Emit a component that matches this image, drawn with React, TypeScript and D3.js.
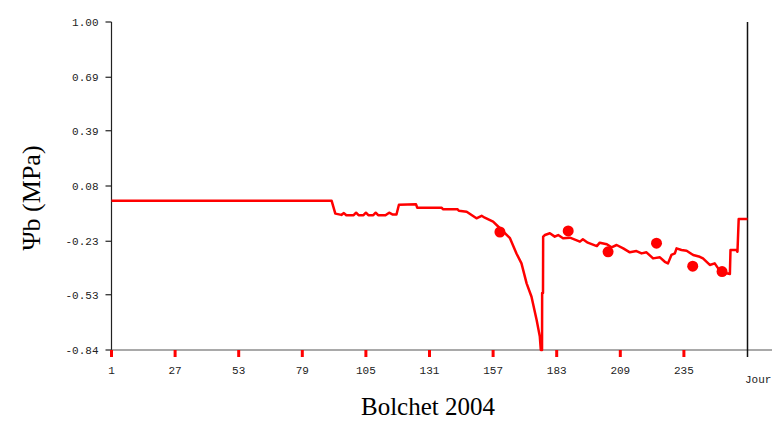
import * as d3 from "d3";

const WIDTH = 781;
const HEIGHT = 423;
const PLOT = { LEFT: 111.5, RIGHT: 747.5, TOP: 22, BOTTOM: 350 };
const AXIS_END = 772;

// daily Psi b curve (day of year, MPa)
const lineDays = [
  1, 91, 92.5, 95, 96, 97, 100, 101, 102, 104, 105, 106, 108, 109, 110, 113, 114.5, 116, 117.5,
  118.5, 125.5, 126, 136, 136.5, 142.5, 143, 146.2, 150.2, 152.3, 153.6, 157, 159.8, 163.9,
  166.6, 168.6, 170.7, 172.7, 174.8, 176.1, 176.5, 177, 177.05, 177.4, 177.46, 178.2, 180.2,
  182.2, 183.6, 185.6, 188.4, 192.5, 193.7, 195.7, 199.4, 200.6, 203.5, 205.4, 207.5, 210.2,
  212.9, 215.6, 217.7, 219.7, 222.4, 225.2, 227.2, 228.5, 229.9, 231.3, 232, 234, 236.1, 238.8,
  241.5, 242.8, 245.6, 247.6, 249, 252.4, 253.8, 254.05, 256.5, 256.9, 257.4, 261,
];
const lineValues = [
  -0.003, -0.003, -0.075, -0.082, -0.072, -0.084, -0.084, -0.07, -0.084, -0.084, -0.07, -0.084,
  -0.084, -0.07, -0.084, -0.084, -0.07, -0.08, -0.08, -0.025, -0.023, -0.042, -0.042, -0.051,
  -0.051, -0.059, -0.064, -0.101, -0.087, -0.098, -0.12, -0.157, -0.213, -0.3, -0.354, -0.466,
  -0.541, -0.672, -0.765, -0.84, -0.84, -0.52, -0.52, -0.204, -0.195, -0.185, -0.204, -0.195,
  -0.213, -0.21, -0.232, -0.219, -0.238, -0.257, -0.238, -0.247, -0.264, -0.251, -0.27, -0.292,
  -0.285, -0.298, -0.292, -0.326, -0.32, -0.345, -0.354, -0.307, -0.298, -0.27, -0.279, -0.283,
  -0.307, -0.317, -0.326, -0.363, -0.354, -0.382, -0.41, -0.414, -0.279, -0.279, -0.289, -0.105,
  -0.105,
];

// measured points
const pointDays = [159.8, 187.7, 204, 223.8, 238.6, 250.6];
const pointValues = [-0.178, -0.172, -0.289, -0.241, -0.37, -0.4];

const yTicks = [1.0, 0.69, 0.39, 0.08, -0.23, -0.53, -0.84];
const xTicks = [1, 27, 53, 79, 105, 131, 157, 183, 209, 235];
const lastDay = 261;

const RED = "#ff0000";
const MONO = "'Liberation Mono', 'DejaVu Sans Mono', monospace";
const SERIF = "'Liberation Serif', 'Times New Roman', serif";

export default function App() {
  const x = d3.scaleLinear().domain([1, lastDay]).range([PLOT.LEFT, PLOT.RIGHT]);
  const y = d3.scaleLinear().domain([-0.84, 1.0]).range([PLOT.BOTTOM, PLOT.TOP]);

  const line = d3
    .line<number>()
    .x((d) => x(d))
    .y((_, i) => y(lineValues[i]))
    .curve(d3.curveLinear);

  return (
    <svg
      width={WIDTH}
      height={HEIGHT}
      style={{ position: "absolute", left: 0, top: 0, background: "#fff" }}
    >
      {/* y axis */}
      <line x1={PLOT.LEFT} x2={PLOT.LEFT} y1={PLOT.TOP} y2={PLOT.BOTTOM + 6} stroke="#222" strokeWidth={1.2} />
      {yTicks.map((t) => (
        <g key={t}>
          <line x1={PLOT.LEFT - 6} x2={PLOT.LEFT} y1={y(t)} y2={y(t)} stroke="#222" strokeWidth={1.2} />
          <text
            x={PLOT.LEFT - 13}
            y={y(t) + 4}
            textAnchor="end"
            fontFamily={MONO}
            fontSize={11}
            fill="#222"
          >
            {t.toFixed(2)}
          </text>
        </g>
      ))}

      {/* x axis */}
      <line x1={PLOT.LEFT} x2={AXIS_END} y1={PLOT.BOTTOM} y2={PLOT.BOTTOM} stroke="#555" strokeWidth={1.2} />
      {xTicks.map((t) => (
        <g key={t}>
          <line x1={x(t)} x2={x(t)} y1={PLOT.BOTTOM} y2={PLOT.BOTTOM + 7} stroke={RED} strokeWidth={3} />
          <text x={x(t)} y={374} textAnchor="middle" fontFamily={MONO} fontSize={11} fill="#222">
            {t}
          </text>
        </g>
      ))}
      <line x1={x(lastDay)} x2={x(lastDay)} y1={PLOT.TOP} y2={PLOT.BOTTOM + 7} stroke="#111" strokeWidth={1.5} />
      <text x={745} y={383} fontFamily={MONO} fontSize={11} fill="#222">
        Jour
      </text>

      {/* data */}
      <path d={line(lineDays) ?? ""} fill="none" stroke={RED} strokeWidth={2.5} strokeLinejoin="round" />
      {pointDays.map((d, i) => (
        <circle key={d} cx={x(d)} cy={y(pointValues[i])} r={5.5} fill={RED} />
      ))}

      {/* labels */}
      <text
        transform={`translate(40, 198) rotate(-90)`}
        textAnchor="middle"
        fontFamily={SERIF}
        fontSize={26}
        fill="#000"
      >
        Ψb (MPa)
      </text>
      <text x={428} y={415} textAnchor="middle" fontFamily={SERIF} fontSize={25} fill="#000">
        Bolchet 2004
      </text>
    </svg>
  );
}
